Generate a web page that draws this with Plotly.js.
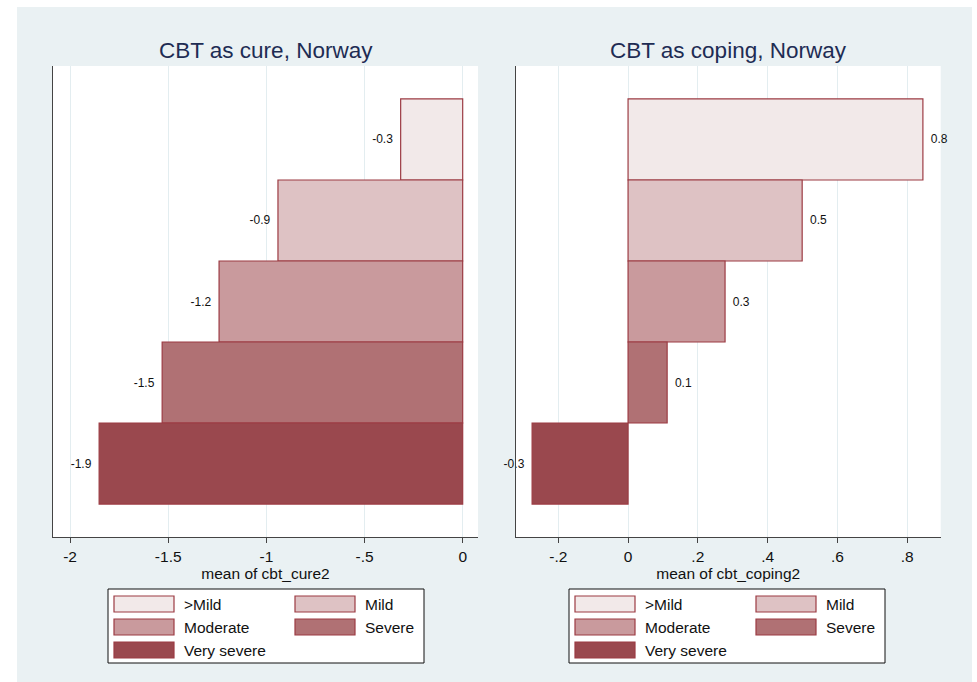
<!DOCTYPE html>
<html><head><meta charset="utf-8">
<script src="https://cdn.plot.ly/plotly-3.0.1.min.js"></script>
<style>html,body{margin:0;padding:0;background:#fff}#chart{width:977px;height:682px}</style>
</head><body><div id="chart"></div>
<script>
const categories = ['>Mild', 'Mild', 'Moderate', 'Severe', 'Very severe'];
const cureValues = [-0.316, -0.941, -1.241, -1.531, -1.852];
const copingValues = [0.845, 0.499, 0.278, 0.112, -0.275];
const fillColors = ['#F2E9E9', '#DEC2C4', '#C99A9D', '#B07174', '#9A484E'];
const lineColor = '#9C3B43';
const cureTickVals = [-2, -1.5, -1, -0.5, 0];
const cureTickText = ['-2', '-1.5', '-1', '-.5', '0'];
const copingTickVals = [-0.2, 0, 0.2, 0.4, 0.6, 0.8];
const copingTickText = ['-.2', '0', '.2', '.4', '.6', '.8'];
const panelTitles = ['CBT as cure, Norway', 'CBT as coping, Norway'];
const axisTitles = ['mean of cbt_cure2', 'mean of cbt_coping2'];

const W = 977, H = 682;
const FONT = 'Liberation Sans, Arial, Helvetica, sans-serif';
const px = v => v / W;
const py = v => 1 - v / H;
const GAP = '\u2009\u2009';

const traces = [];
[cureValues, copingValues].forEach((vals, p) => {
  categories.forEach((c, i) => {
    traces.push({
      type: 'bar', orientation: 'h',
      y: [i], x: [vals[i]], width: 1,
      name: c, showlegend: false,
      xaxis: p === 0 ? 'x' : 'x2', yaxis: p === 0 ? 'y' : 'y2',
      marker: {color: fillColors[i], line: {color: lineColor, width: 1.2}},
      texttemplate: vals[i] < 0 ? '%{x:.1f}' + GAP : GAP + '%{x:.1f}',
      textposition: 'outside', cliponaxis: false,
      textfont: {size: 12, color: '#111', family: FONT},
      hoverinfo: 'x+name'
    });
  });
});

const panels = [
  {x0: 53, x1: 478, range: [-2.087, 0.078], tv: cureTickVals, tt: cureTickText, legX: 108},
  {x0: 515.7, x1: 940.7, range: [-0.322, 0.896], tv: copingTickVals, tt: copingTickText, legX: 569}
];
const plotTop = 66, plotBot = 537;

function xaxis(p, i) {
  return {
    domain: [px(p.x0), px(p.x1)], range: p.range, anchor: i === 0 ? 'y' : 'y2',
    tickvals: p.tv, ticktext: p.tt, ticks: 'outside', ticklen: 5, tickcolor: '#444', tickwidth: 1,
    showline: true, linecolor: '#444', linewidth: 1, mirror: false,
    showgrid: true, gridcolor: '#E3EDF0', gridwidth: 1, zeroline: false,
    tickfont: {size: 15.5, color: '#111', family: FONT},
    title: {text: axisTitles[i], font: {size: 15.5, color: '#111', family: FONT}, standoff: 0},
    fixedrange: true
  };
}
function yaxis(i) {
  return {
    domain: [py(plotBot), py(plotTop)], range: [4.907, -0.907], anchor: i === 0 ? 'x' : 'x2',
    showline: true, linecolor: '#444', linewidth: 1, showticklabels: false,
    showgrid: false, zeroline: false, ticks: '', fixedrange: true
  };
}

const shapes = [
  {type: 'rect', xref: 'paper', yref: 'paper', x0: 0, x1: px(17), y0: 0, y1: 1, fillcolor: '#fff', line: {width: 0}, layer: 'below'},
  {type: 'rect', xref: 'paper', yref: 'paper', x0: px(972), x1: 1, y0: 0, y1: 1, fillcolor: '#fff', line: {width: 0}, layer: 'below'},
  {type: 'rect', xref: 'paper', yref: 'paper', x0: 0, x1: 1, y0: py(7), y1: 1, fillcolor: '#fff', line: {width: 0}, layer: 'below'}
];
const annotations = [];

panels.forEach((p, i) => {
  annotations.push({
    xref: 'paper', yref: 'paper', x: px((p.x0 + p.x1) / 2), y: py(50),
    xanchor: 'center', yanchor: 'middle', showarrow: false,
    text: panelTitles[i], font: {size: 22.5, color: '#1E2C53', family: FONT}
  });
  const L = p.legX;
  shapes.push({type: 'rect', xref: 'paper', yref: 'paper', x0: px(L), x1: px(L + 316), y0: py(663), y1: py(589),
    fillcolor: '#fff', line: {color: '#111', width: 1}});
  categories.forEach((c, k) => {
    const col = k % 2, row = Math.floor(k / 2);
    const sx = L + 6 + col * 181, sy = 596 + row * 23;
    shapes.push({type: 'rect', xref: 'paper', yref: 'paper', x0: px(sx), x1: px(sx + 60), y0: py(sy + 16), y1: py(sy),
      fillcolor: fillColors[k], line: {color: lineColor, width: 1.2}});
    annotations.push({
      xref: 'paper', yref: 'paper', x: px(sx + 68), y: py(sy + 8.5),
      xanchor: 'left', yanchor: 'middle', showarrow: false,
      text: c, font: {size: 15.5, color: '#111', family: FONT}
    });
  });
});

const layout = {
  width: W, height: H, margin: {l: 0, r: 0, t: 0, b: 0},
  paper_bgcolor: '#EAF1F3', plot_bgcolor: '#FFFFFF',
  barmode: 'overlay', bargap: 0,
  font: {family: FONT},
  xaxis: xaxis(panels[0], 0), yaxis: yaxis(0),
  xaxis2: xaxis(panels[1], 1), yaxis2: yaxis(1),
  shapes: shapes, annotations: annotations, showlegend: false
};

Plotly.newPlot('chart', traces, layout, {displayModeBar: false, staticPlot: true});
</script>
</body></html>
